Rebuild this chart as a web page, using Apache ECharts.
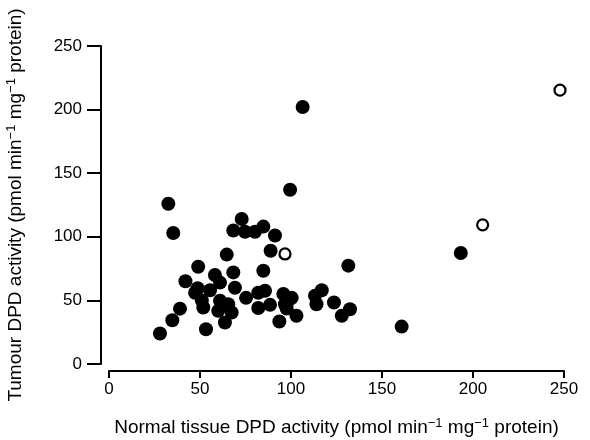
<!DOCTYPE html>
<html><head><meta charset="utf-8">
<script src="https://cdn.jsdelivr.net/npm/echarts@6/dist/echarts.min.js"></script>
<style>html,body{margin:0;padding:0;background:#fff}#c{width:590px;height:440px}</style>
</head><body><div id="c"></div>
<script>
const xTicks = [0, 50, 100, 150, 200, 250];
const yTicks = [0, 50, 100, 150, 200, 250];
// filled circles: [normal tissue DPD, tumour DPD]
const filledX = [28,34.8,39,42,32.6,35.3,48.7,47.3,49,51,51.8,53.3,55.5,58.2,61,61,65.5,60,67.4,63.7,64.7,68.3,69.2,68.3,72.9,74.7,80.2,84.8,91.2,88.8,84.8,75.3,82,85.7,82,88.5,95.8,98.5,96.7,97.6,103,93.6,99.5,106.4,100.4,113.2,116.9,114,123.6,132.4,127.9,131.5,160.8,193.3];
const filledY = [24,34.4,43.5,65,126,103,59.6,56,76.5,50,44.4,27.3,58,70,64,49.7,47,41.8,40.5,32.6,86,72,60,105,114,104,104,108,101,89,73.3,52,56,57.6,44,46.5,55,49.7,47,43.6,37.9,33.4,137,202,52,53.6,58,47,48.3,43,37.9,77.3,29.4,87.3];
// open circles
const openX = [96.7,205.3,247.8];
const openY = [86.5,109.4,215.3];

const chart = echarts.init(document.getElementById('c'), null, {renderer:'canvas'});
const font = 'Liberation Sans, Arial, Helvetica, sans-serif';
const sup = {fontSize: 13, fontFamily: font, color:'#000', padding:[0,0,9,0]};
const main = {fontSize: 19, fontFamily: font, color:'#000'};
chart.setOption({
  animation:false,
  backgroundColor:'#fff',
  grid:{left:109, right:26, top:46, bottom:76, containLabel:false, outerBoundsMode:'none'},
  xAxis:{type:'value', min:0, max:250, interval:50, offset:7,
    axisLine:{onZero:false, lineStyle:{color:'#000', width:2}},
    axisTick:{length:7, lineStyle:{color:'#000', width:2}},
    axisLabel:{color:'#000', fontSize:17, fontFamily:font, margin:10},
    splitLine:{show:false},
    name:'{m|Normal tissue DPD activity (pmol min}{s|\u22121}{m| mg}{s|\u22121}{m| protein)}',
    nameLocation:'middle', nameGap:46,
    nameTextStyle:{rich:{m:main, s:sup}}
  },
  yAxis:{type:'value', min:0, max:250, interval:50, offset:8,
    axisLine:{onZero:false, lineStyle:{color:'#000', width:2}},
    axisTick:{length:14, lineStyle:{color:'#000', width:2}},
    axisLabel:{color:'#000', fontSize:17, fontFamily:font, margin:19},
    splitLine:{show:false},
    name:'{m|Tumour DPD activity (pmol min}{s|\u22121}{m| mg}{s|\u22121}{m| protein)}',
    nameLocation:'middle', nameGap:74,
    nameTextStyle:{rich:{m:main, s:sup}}
  },
  series:[
    {type:'scatter', symbol:'circle', symbolSize:14,
     itemStyle:{color:'#000', opacity:1},
     data: filledX.map((x,i)=>[x, filledY[i]])},
    {type:'scatter', symbol:'circle', symbolSize:11,
     itemStyle:{color:'#fff', borderColor:'#000', borderWidth:2.2, opacity:1},
     data: openX.map((x,i)=>[x, openY[i]])}
  ]
});
</script></body></html>
